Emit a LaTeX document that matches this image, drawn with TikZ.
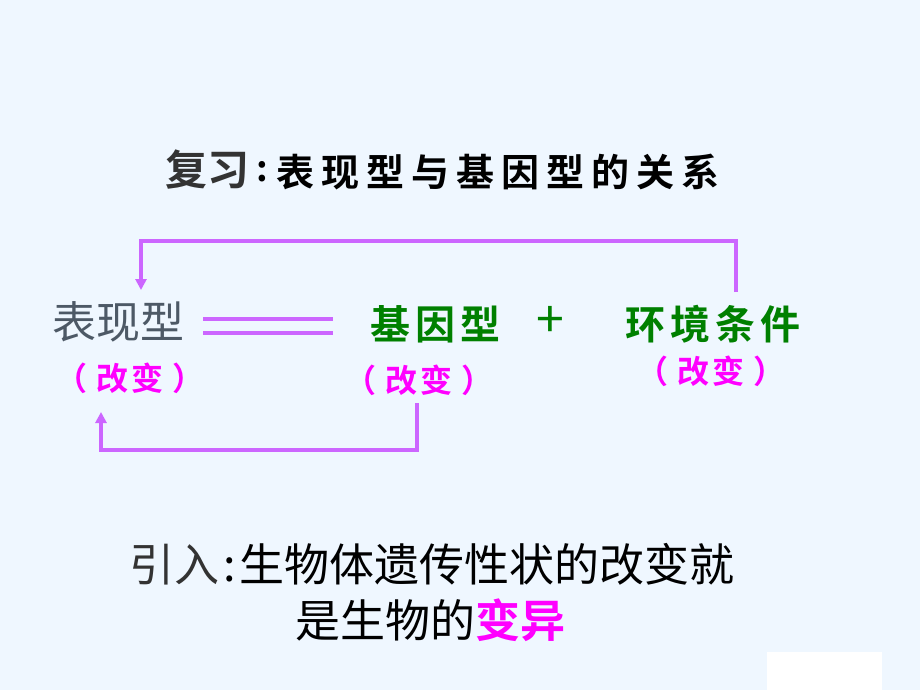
\documentclass[tikz,border=0pt]{standalone}
\usepackage{fontspec}
\setmainfont{Noto Sans CJK SC}
\newfontfamily\cjkb{Noto Sans CJK SC Bold}
\newfontfamily\cjk{Noto Sans CJK SC}
\usetikzlibrary{arrows.meta}
\definecolor{bg}{HTML}{EFF7FF}
\definecolor{conn}{HTML}{CC66FF}
\definecolor{grn}{HTML}{008000}
\definecolor{mag}{HTML}{FF00FF}
\definecolor{dgray}{HTML}{333333}
\definecolor{sgray}{HTML}{4D5966}
\tikzset{
  txt/.style={inner sep=0pt, outer sep=0pt, anchor=center},
  connline/.style={draw=conn, line width=3.5pt},
  arrowline/.style={connline, -{Triangle[length=11pt,width=11pt]}},
  paren/.style={txt, text=mag, font=\cjkb\fontsize{32}{36}\selectfont},
  gtext/.style={txt, text=grn, font=\cjkb\fontsize{40}{46}\selectfont},
}
\newcommand{\gaibian}{（\hspace{9pt}改\hspace{3pt}变\hspace{9pt}）}
\begin{document}
\begin{tikzpicture}[x=1pt,y=-1pt]
\fill[bg] (0,0) rectangle (920,690);
\useasboundingbox (0,0) rectangle (920,690);
\fill[white] (767,652) rectangle (882,690);

% title
\node[txt, text=dgray, font=\cjkb\fontsize{42}{48}\selectfont] (rev) at (207,170) {复习};
\node[txt, font=\cjkb\fontsize{36}{40}\selectfont] (colon) at (262,172) {:};
\node[txt, font=\cjkb\fontsize{38}{42}\selectfont] (title) at (498,172)
  {表\hspace{7pt}现\hspace{7pt}型\hspace{7pt}与\hspace{7pt}基\hspace{7pt}因\hspace{7pt}型\hspace{7pt}的\hspace{7pt}关\hspace{7pt}系};

% row
\node[txt, text=sgray, font=\cjk\fontsize{44}{50}\selectfont] (pheno) at (118,322) {表现型};
\node[gtext] (geno) at (435,324) {基\hspace{5pt}因\hspace{5pt}型};
\node[txt, text=grn, font=\cjk\fontsize{50}{56}\selectfont] (plus) at (550,322) {+};
\node[gtext] (env) at (713,324) {环\hspace{5pt}境\hspace{5pt}条\hspace{5pt}件};

\node[paren] (c1) at (130,378) {\gaibian};
\node[paren] (c2) at (419,380) {\gaibian};
\node[paren] (c3) at (711,371) {\gaibian};

% double line
\coordinate (e1a) at (203,319); \coordinate (e1b) at (333,319);
\coordinate (e2a) at (203,333); \coordinate (e2b) at (333,333);
\draw[connline] (e1a) -- (e1b);
\draw[connline] (e2a) -- (e2b);

% connectors
\coordinate (envtop) at (736,292);
\coordinate (phtop) at (141,290);
\draw[arrowline] (envtop) -- (736,241) -| (phtop);
\coordinate (c2bot) at (417,403);
\coordinate (c1bot) at (101,412);
\draw[arrowline] (c2bot) -- (417,450) -| (c1bot);

% bottom text
\node[txt, font=\cjk\fontsize{45}{52}\selectfont] (l1) at (432,564)
  {\textcolor{dgray}{引入}\hspace{4pt}:\hspace{4pt}生物体遗传性状的改变就};
\node[txt, font=\cjk\fontsize{45}{52}\selectfont] (l2) at (430,620)
  {是生物的\textcolor{mag}{\cjkb 变异}};
\end{tikzpicture}
\end{document}
